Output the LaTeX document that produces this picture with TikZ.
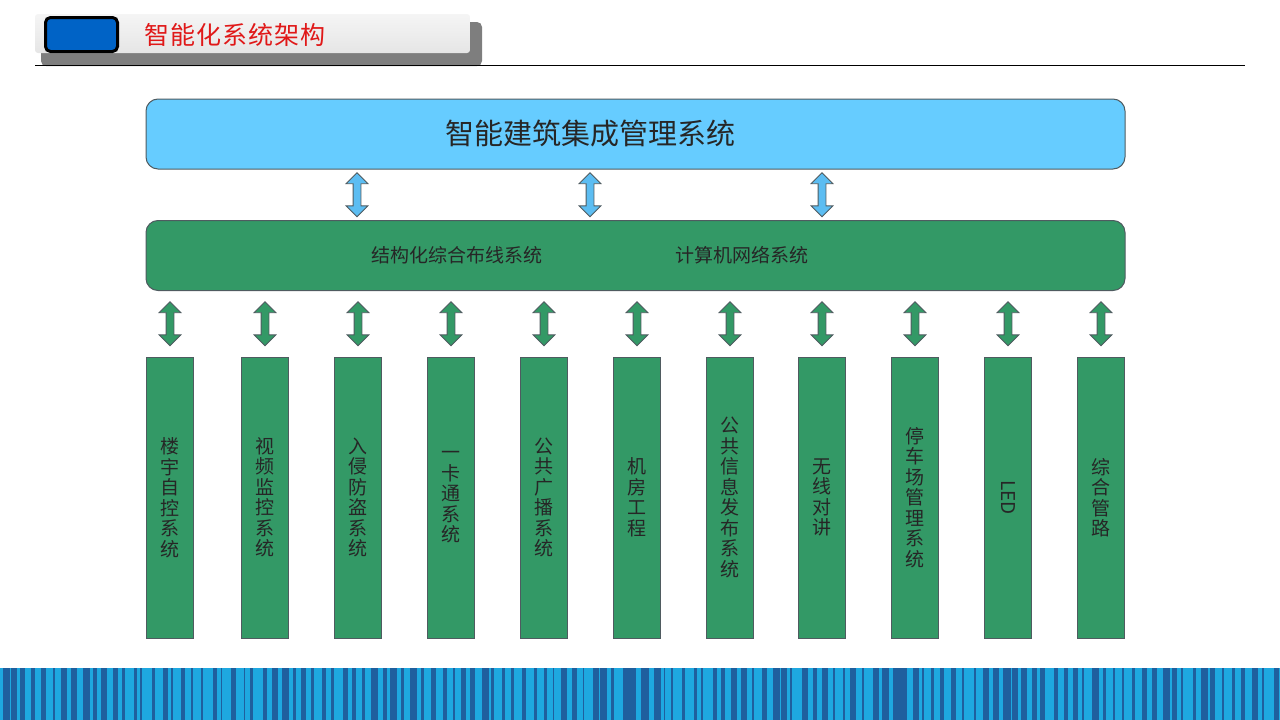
\documentclass[tikz,border=0pt]{standalone}
\usepackage{fontspec}
\newfontfamily\cjk{Noto Sans CJK SC}
\usetikzlibrary{positioning,shapes.arrows}
\definecolor{skyblue}{HTML}{66CCFF}
\definecolor{boxgreen}{HTML}{339966}
\definecolor{edgegray}{HTML}{4F5B60}
\definecolor{arrowblue}{HTML}{5CBDF2}
\definecolor{stripelight}{HTML}{1EA8E0}
\definecolor{stripedark}{HTML}{1F5F9E}
\definecolor{titlered}{HTML}{E01818}
\definecolor{badgeblue}{HTML}{0063C6}
\tikzset{
	x=1pt, y=-1pt
}
\newcommand{\linkarrow}[3]{
	\path (#1) -- (#2) node[midway, double arrow, rotate=90, draw=edgegray, line width=0.8pt, fill=#3, minimum height=44pt, minimum width=21pt, double arrow head extend=7pt, inner xsep=0pt, inner ysep=3.5pt] {};}

\begin{document}
\begin{tikzpicture}[
layerbox/.style = {
	draw = edgegray,
	line width = 1pt,
	rounded corners = 12pt,
	minimum width = 979pt,
	minimum height = 70pt,
	inner sep = 0pt,
},
subbox/.style = {
	draw = edgegray,
	line width = 1pt,
	fill = boxgreen,
	minimum width = 47pt,
	minimum height = 281pt,
	inner sep = 0pt,
	align = center,
	font = \cjk\fontsize{19}{20.5}\selectfont,
	text = black!85,
}
]
\useasboundingbox (0,0) rectangle (1280,720);

\fill[gray!55!black!70, rounded corners=5pt] (41,22) rectangle (482,66);
\shade[top color=gray!8, bottom color=gray!20, rounded corners=3pt] (35,14) rectangle (470,53);
\node[draw=black, line width=3pt, fill=badgeblue, rounded corners=5pt, minimum width=72pt, minimum height=34pt] (badge) at (81.5,34.5) {};
\node[font=\cjk\fontsize{25}{25}\selectfont\addfontfeature{LetterSpace=4}, text=titlered, anchor=west] (title) at (141,35) {智能化系统架构};
\draw[line width=0.8pt] (35,65) -- (1245,65);

\node[layerbox, fill=skyblue, font=\cjk\fontsize{29}{29}\selectfont, text=black!85] (mgmt) at (635.5,134) {\hspace{-90pt}智能建筑集成管理系统};
\node[layerbox, fill=boxgreen, font=\cjk\fontsize{19}{19}\selectfont, text=black!85] (net) at (635.5,255.5) {};
\node[font=\cjk\fontsize{19}{19}\selectfont, text=black!85] (cabling) at (457,255) {结构化综合布线系统};
\node[font=\cjk\fontsize{19}{19}\selectfont, text=black!85] (network) at (742,255) {计算机网络系统};

\foreach \x/\txt [count=\i] in {
	170/{楼\\宇\\自\\控\\系\\统},
	265/{视\\频\\监\\控\\系\\统},
	358/{入\\侵\\防\\盗\\系\\统},
	451/{一\\卡\\通\\系\\统},
	544/{公\\共\\广\\播\\系\\统},
	637/{机\\房\\工\\程},
	730/{公\\共\\信\\息\\发\\布\\系\\统},
	822/{无\\线\\对\\讲},
	915/{停\\车\\场\\管\\理\\系\\统},
	1008/{\rotatebox{-90}{LED}},
	1101/{综\\合\\管\\路}}
	\node[subbox] (sys\i) at (\x,497.5) {\txt};

\foreach \x in {357,590,822} {
	\linkarrow{mgmt.south -| \x,0}{net.north -| \x,0}{arrowblue}
}
\foreach \i in {1,...,11} {
	\linkarrow{net.south -| sys\i}{sys\i.north}{boxgreen}
}

\fill[stripelight] (0,668) rectangle (1280,720);
\pgfmathsetseed{11}
\foreach \i in {0,...,127} {
	\pgfmathsetmacro\bx{\i*10+rnd*4}
	\pgfmathsetmacro\bw{1.5+rnd*6}
	\fill[stripedark] (\bx,668) rectangle ++(\bw,52);
}

\end{tikzpicture}
\end{document}
